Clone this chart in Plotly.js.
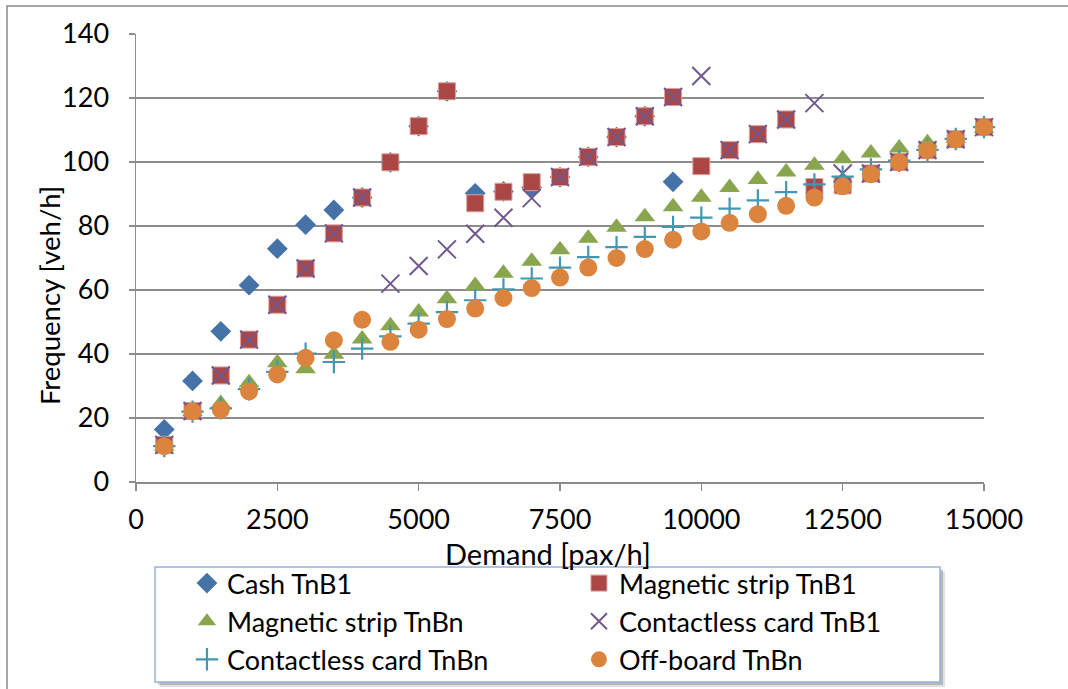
<!DOCTYPE html>
<html>
<head>
<meta charset="utf-8">
<script src="https://cdn.plot.ly/plotly-3.0.1.min.js"></script>
<style>
  html, body { margin: 0; padding: 0; background: #ffffff; overflow: hidden; }
  #chart { width: 1068px; height: 710px; }
</style>
</head>
<body>
<div id="chart"></div>
<script>
// Passenger demand levels [pax/h]
const demand = [500, 1000, 1500, 2000, 2500, 3000, 3500, 4000, 4500, 5000,
                5500, 6000, 6500, 7000, 7500, 8000, 8500, 9000, 9500, 10000,
                10500, 11000, 11500, 12000, 12500, 13000, 13500, 14000, 14500, 15000];

// Required bus frequency [veh/h] per fare-collection scenario
const cashTnB1 = [16.4, 31.6, 47.1, 61.5, 72.9, 80.4, 85.0, 88.9, 99.9, 111.2,
                  122.1, 90.2, 90.8, 92.0, 95.3, 101.6, 107.8, 114.3, 93.8];
const magStripTnB1 = [11.6, 22.2, 33.3, 44.5, 55.4, 66.7, 77.7, 88.9, 99.9, 111.2,
                      122.1, 87.1, 90.7, 93.7, 95.3, 101.6, 107.8, 114.3, 120.3, 98.7,
                      103.7, 108.7, 113.3, 92.2, 92.7, 96.4, 100.0, 103.7, 107.1, 110.9];
const magStripTnBn = [11.2, 22.0, 24.5, 31.0, 37.3, 35.4, 39.9, 44.7, 48.8, 53.1,
                      57.3, 61.4, 65.2, 69.0, 72.6, 76.2, 79.6, 82.9, 86.0, 89.0,
                      92.0, 94.5, 96.9, 99.0, 101.0, 102.8, 104.4, 106.0, 107.5, 110.5];
const contactlessTnB1 = [11.6, 22.2, 33.3, 44.5, 55.4, 66.7, 77.7, 88.9, 62.0, 67.5,
                         72.7, 77.6, 82.6, 88.7, 95.3, 101.6, 107.8, 114.3, 120.3, 126.9,
                         103.7, 108.7, 113.3, 118.4, 96.4, 96.4, 100.0, 103.7, 107.1, 110.9];
const contactlessTnBn = [11.2, 22.0, 23.0, 29.0, 34.4, 40.1, 37.5, 41.7, 45.5, 49.5,
                         53.1, 56.8, 60.2, 63.6, 67.0, 70.3, 73.4, 76.6, 79.7, 82.6,
                         85.4, 88.0, 90.6, 93.0, 95.4, 97.7, 100.4, 103.8, 107.2, 110.9];
const offBoardTnBn = [11.2, 22.1, 22.6, 28.3, 33.6, 38.8, 44.3, 50.7, 43.8, 47.6,
                      50.9, 54.2, 57.5, 60.6, 63.9, 67.0, 70.0, 72.8, 75.7, 78.3,
                      81.0, 83.7, 86.3, 88.9, 92.4, 96.2, 99.9, 103.7, 107.1, 110.9];

const xTicks = [0, 2500, 5000, 7500, 10000, 12500, 15000];
const yTicks = [0, 20, 40, 60, 80, 100, 120, 140];

const xTitle = 'Demand [pax/h]';
const yTitle = 'Frequency [veh/h]';

const FONT = 'Lato, "Open Sans", sans-serif';
const GRID = '#8c8c8c';

function series(name, ys, symbol, color, size, extra) {
  const m = Object.assign({ symbol: symbol, color: color, size: size,
                            line: { width: 0, color: color } }, extra || {});
  return {
    type: 'scatter', mode: 'markers', name: name,
    x: demand.slice(0, ys.length), y: ys,
    marker: m, cliponaxis: false
  };
}

const traces = [
  series('Cash TnB1', cashTnB1, 'diamond', '#4572A7', 16),
  series('Magnetic strip TnB1', magStripTnB1, 'square', '#AA4643', 17,
         { line: { width: 1, color: '#d9a0a0' } }),
  series('Magnetic strip TnBn', magStripTnBn, 'triangle-up', '#89A54E', 18),
  series('Contactless card TnB1', contactlessTnB1, 'x-thin-open', '#71588F', 18,
         { line: { width: 2, color: '#71588F' } }),
  series('Contactless card TnBn', contactlessTnBn, 'cross-thin-open', '#4198AF', 16,
         { line: { width: 2.2, color: '#4198AF' } }),
  series('Off-board TnBn', offBoardTnBn, 'circle', '#DB843D', 18)
];

// The figure is slightly taller than the visible window so the legend keeps
// its own padding without squeezing the plot area.
const layout = {
  width: 1068, height: 710,
  margin: { l: 136, r: 84, t: 34, b: 228 },
  paper_bgcolor: '#ffffff', plot_bgcolor: '#ffffff',
  font: { family: FONT, size: 27, color: '#000000' },
  showlegend: true,
  xaxis: {
    range: [0, 15000], tickvals: xTicks, ticktext: xTicks.map(String),
    showgrid: false, zeroline: false,
    showline: true, linecolor: GRID, linewidth: 1.5,
    ticks: 'outside', ticklen: 7, tickwidth: 1.5, tickcolor: GRID,
    ticklabelstandoff: 6,
    tickfont: { family: FONT, size: 27, color: '#000' }
  },
  yaxis: {
    range: [0, 140], tickvals: yTicks, ticktext: yTicks.map(String),
    showgrid: true, gridcolor: GRID, gridwidth: 2, zeroline: false,
    showline: true, linecolor: GRID, linewidth: 1.5,
    ticks: 'outside', ticklen: 6, tickwidth: 1.5, tickcolor: GRID,
    ticklabelstandoff: 14,
    tickfont: { family: FONT, size: 27, color: '#000' }
  },
  annotations: [
    { text: xTitle, xref: 'paper', yref: 'paper', x: 0.4858, y: -0.1585,
      xanchor: 'center', yanchor: 'middle', showarrow: false,
      font: { family: FONT, size: 29, color: '#000' } },
    { text: yTitle, xref: 'paper', yref: 'paper', x: -0.1026, y: 0.4174, textangle: -90,
      xanchor: 'center', yanchor: 'middle', showarrow: false,
      font: { family: FONT, size: 27.5, color: '#000' } }
  ],
  legend: {
    orientation: 'h', x: 0.0601, y: -0.172, xanchor: 'left', yanchor: 'top',
    entrywidth: 347, entrywidthmode: 'pixels',
    bgcolor: 'rgba(0,0,0,0)', borderwidth: 0,
    font: { family: FONT, size: 27, color: '#000' }
  },
  shapes: [
    // outer chart frame
    { type: 'rect', xref: 'paper', yref: 'paper', x0: -0.1521, x1: 1.1073, y0: -0.4754, y1: 1.0625,
      line: { color: '#8a8a8a', width: 1.5 }, fillcolor: 'rgba(0,0,0,0)', layer: 'below' },
    // legend drop shadow
    { type: 'rect', xref: 'paper', yref: 'paper', x0: 0.0283, x1: 0.9540, y0: -0.4575, y1: -0.1990,
      line: { width: 0 }, fillcolor: 'rgba(0,0,0,0.12)', layer: 'below' },
    { type: 'rect', xref: 'paper', yref: 'paper', x0: 0.0259, x1: 0.9516, y0: -0.4530, y1: -0.1950,
      line: { width: 0 }, fillcolor: 'rgba(0,0,0,0.18)', layer: 'below' },
    // legend box
    { type: 'rect', xref: 'paper', yref: 'paper', x0: 0.0224, x1: 0.9481, y0: -0.4464, y1: -0.1897,
      line: { color: '#95B3D7', width: 1.5 }, fillcolor: '#ffffff', layer: 'below' }
  ]
};

Plotly.newPlot('chart', traces, layout, { displayModeBar: false, staticPlot: true });
</script>
</body>
</html>
